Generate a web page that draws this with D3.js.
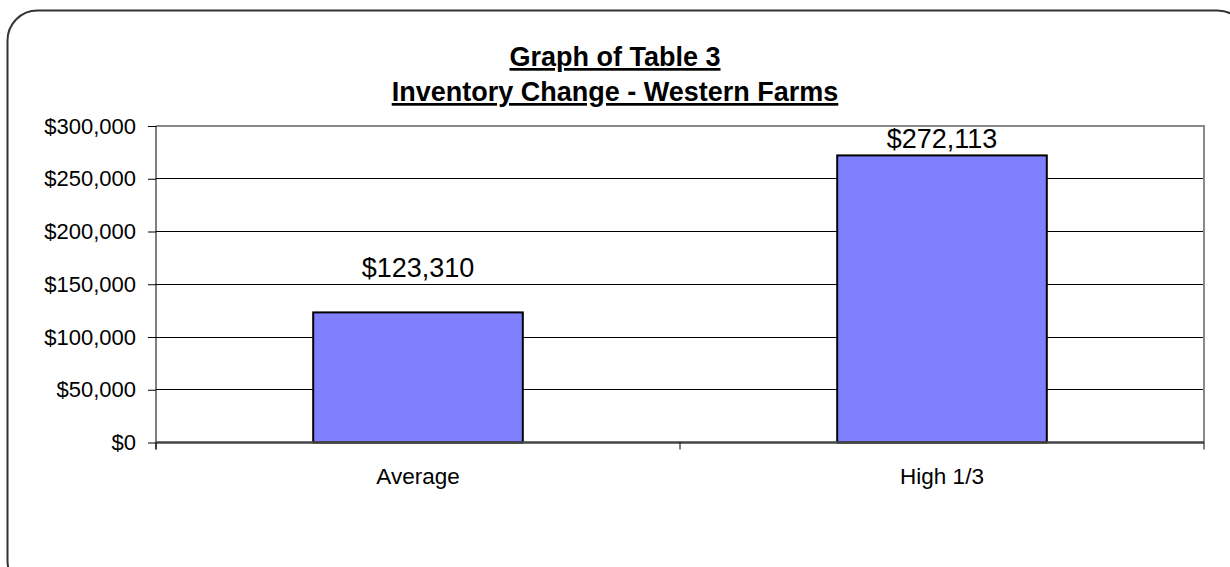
<!DOCTYPE html>
<html><head><meta charset="utf-8">
<script src="https://cdn.jsdelivr.net/npm/d3@7"></script>
<style>body{margin:0;background:#fff}svg{display:block}text{font-family:Arial,"Liberation Sans",sans-serif}</style>
</head><body>
<script>
const categories = ["Average", "High 1/3"];
const values = [123310, 272113];
const yTicks = [0, 50000, 100000, 150000, 200000, 250000, 300000];
const titleLines = ["Graph of Table 3", "Inventory Change - Western Farms"];

const W = 1230, H = 567;
const svg = d3.select("body").append("svg").attr("width", W).attr("height", H);

// outer rounded frame
svg.append("rect").attr("x", 7.5).attr("y", 10.5).attr("width", 1240).attr("height", 580)
  .attr("rx", 30).attr("fill", "none").attr("stroke", "#333").attr("stroke-width", 2);

const m = {left: 156, right: 1204, top: 126, bottom: 442.5};
const x = d3.scaleBand().domain(categories).range([m.left, m.right]).paddingInner(0).paddingOuter(0);
const y = d3.scaleLinear().domain([0, 300000]).range([m.bottom, m.top]);
const fmt = v => "$" + d3.format(",")(v);

// gridlines
svg.append("g").selectAll("line").data(yTicks.filter(d => d > 0 && d < 300000)).join("line")
  .attr("x1", m.left).attr("x2", m.right).attr("y1", d => y(d)).attr("y2", d => y(d))
  .attr("stroke", "#000").attr("stroke-width", 1).attr("shape-rendering", "crispEdges");

// plot border top/right grey
svg.append("path").attr("d", `M${m.left},${m.top}H${m.right}V${m.bottom}`)
  .attr("fill", "none").attr("stroke", "#888").attr("stroke-width", 2);

// bars
const bw = x.bandwidth() * 0.4;
svg.append("g").selectAll("rect").data(values).join("rect")
  .attr("x", (d, i) => x(categories[i]) + (x.bandwidth() - bw) / 2)
  .attr("y", d => y(d)).attr("width", bw).attr("height", d => y(0) - y(d))
  .attr("fill", "#8080FF").attr("stroke", "#000").attr("stroke-width", 2);

// y axis
const yAxis = d3.axisLeft(y).tickValues(yTicks).tickFormat(fmt).tickSize(8).tickPadding(12);
const gy = svg.append("g").attr("transform", `translate(${m.left},0)`).call(yAxis);
gy.select(".domain").attr("stroke", "#000").attr("stroke-width", 1).attr("d", `M0,${m.top}V${m.bottom + 7}`);
gy.selectAll(".tick line").attr("stroke", "#000");
gy.selectAll("text").attr("font-size", "22px").attr("fill", "#000").attr("font-family", "Arial, 'Liberation Sans', sans-serif");

// x axis
const xEdges = d3.scaleLinear().domain([0, categories.length]).range([m.left, m.right]);
svg.append("line").attr("x1", m.left).attr("x2", m.right).attr("y1", m.bottom).attr("y2", m.bottom)
  .attr("stroke", "#444").attr("stroke-width", 2.5);
svg.append("g").selectAll("line").data(d3.range(categories.length + 1)).join("line")
  .attr("x1", d => xEdges(d)).attr("x2", d => xEdges(d)).attr("y1", m.bottom).attr("y2", m.bottom + 7)
  .attr("stroke", "#000").attr("stroke-width", 1);
svg.append("g").selectAll("text").data(categories).join("text")
  .attr("x", d => x(d) + x.bandwidth() / 2).attr("y", 484)
  .attr("text-anchor", "middle").attr("font-size", "22.5px").attr("fill", "#000").text(d => d);

// data labels
svg.append("g").selectAll("text").data(values).join("text")
  .attr("x", (d, i) => x(categories[i]) + x.bandwidth() / 2)
  .attr("y", d => Math.max(y(d) - 35, m.top + 22))
  .attr("text-anchor", "middle").attr("font-size", "27px").attr("fill", "#000").text(fmt);

// title
svg.append("g").selectAll("text").data(titleLines).join("text")
  .attr("x", (m.left + m.right) / 2 - 65).attr("y", (d, i) => 66 + i * 35)
  .attr("text-anchor", "middle").attr("font-size", "27px").attr("font-weight", "bold")
  .attr("text-decoration", "underline").attr("fill", "#000").text(d => d);
</script>
</body></html>
